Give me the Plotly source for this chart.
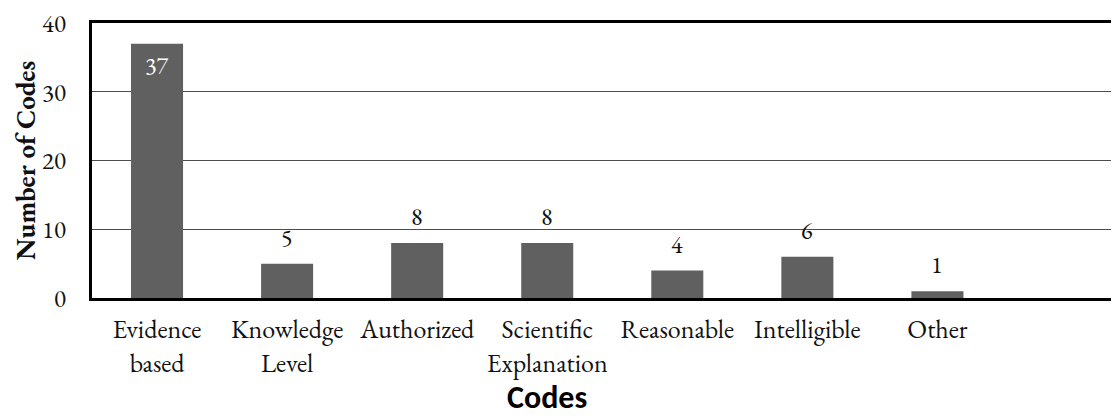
import plotly.graph_objects as go

categories = ["Evidence<br>based", "Knowledge<br>Level", "Authorized", "Scientific<br>Explanation",
              "Reasonable", "Intelligible", "Other"]
values = [37, 5, 8, 8, 4, 6, 1]
y_ticks = [0, 10, 20, 30, 40]

SERIF = "Garamond, 'EB Garamond', 'Liberation Serif', 'DejaVu Serif', serif"
BAR = "#606060"

fig = go.Figure()
fig.add_trace(go.Bar(
    x=list(range(len(categories))), y=values, width=0.4,
    marker=dict(color=BAR, line=dict(width=0)),
    hoverinfo="skip",
))

# data labels
for i, v in enumerate(values):
    if v > 30:
        fig.add_annotation(x=i, y=v, xref="x", yref="y", text=str(v), showarrow=False,
                           yanchor="top", yshift=-4,
                           font=dict(family=SERIF, size=24, color="white"))
    else:
        fig.add_annotation(x=i, y=v, xref="x", yref="y", text=str(v), showarrow=False,
                           yanchor="bottom", yshift=9,
                           font=dict(family=SERIF, size=24, color="#111111"))

# x-axis title, centred under the 4th category
fig.add_annotation(x=3, y=-0.362, xref="x", yref="paper", text="<b>Codes</b>", showarrow=False,
                   yanchor="middle",
                   font=dict(family="Calibri, Carlito, 'Open Sans', sans-serif", size=32, color="#000000"))

fig.update_layout(
    width=1111, height=412,
    margin=dict(l=84, r=0, t=15, b=122),
    paper_bgcolor="white", plot_bgcolor="white",
    showlegend=False,
    bargap=0.6,
    xaxis=dict(
        range=[-0.5, 7.396],
        tickmode="array", tickvals=list(range(len(categories))), ticktext=categories,
        tickfont=dict(family=SERIF, size=26, color="#111111"),
        showline=True, linecolor="black", linewidth=3, mirror=True,
        showgrid=False, zeroline=False, ticks="", ticklabelstandoff=6,
        ticklabeloverflow="allow",
    ),
    yaxis=dict(
        range=[0, 40],
        tickmode="array", tickvals=y_ticks,
        tickfont=dict(family=SERIF, size=25, color="#111111"),
        showline=True, linecolor="black", linewidth=3, mirror=False,
        showgrid=True, gridcolor="#4d4d4d", gridwidth=1.2,
        zeroline=False, ticks="", ticklabelstandoff=18,
        ticklabeloverflow="allow",
        title=dict(text="<b>Number of Codes</b>", font=dict(family=SERIF, size=27, color="#111111"),
                   standoff=4),
    ),
)

fig.write_html("out.html")
